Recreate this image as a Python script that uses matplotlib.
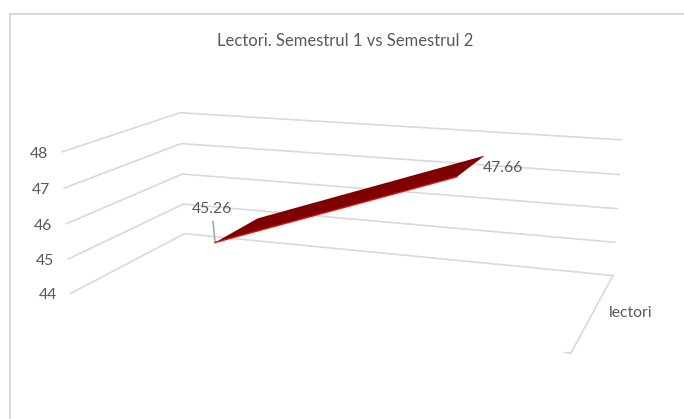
import numpy as np
import matplotlib
matplotlib.use("Agg")
import matplotlib.pyplot as plt

plt.rcParams["font.family"] = ["Lato", "DejaVu Sans"]

title = "Lectori. Semestrul 1 vs Semestrul 2"
series_name = "lectori"
axis_ticks = [44, 45, 46, 47, 48]
semester_values = [45.26, 47.66]

# where the 3D box corners land in the picture: (x, depth, value) -> pixel
# depth 0 is the back wall, depth 1 the front
box_world = [
    (0, 1, 48), (0, 0, 48), (1, 0, 48),
    (0, 1, 47), (0, 0, 47), (1, 0, 47),
    (0, 1, 46), (0, 0, 46), (1, 0, 46),
    (0, 1, 45), (0, 0, 45), (1, 0, 45),
    (0, 1, 44), (0, 0, 44), (1, 0, 44),
    (1, 1, 44),
]
box_pixels = [
    (62, 152), (180, 113), (621, 140),
    (64, 188), (182, 143), (619, 174),
    (67, 224), (183, 174), (617, 209),
    (68, 259), (183, 204), (615, 242),
    (71, 293), (184, 234), (613, 276),
    (571, 353),
]
ribbon_x = [0.25, 0.75]
ribbon_depth = [0.27, 0.70]

GRID = "#d9d9d9"
TEXT = "#595959"


def fit_camera(world, pixels):
    # plain DLT, last matrix entry fixed to 1
    rows, rhs = [], []
    for (x, d, v), (px, py) in zip(world, pixels):
        rows.append([x, d, v, 1, 0, 0, 0, 0, -px * x, -px * d, -px * v])
        rows.append([0, 0, 0, 0, x, d, v, 1, -py * x, -py * d, -py * v])
        rhs += [px, py]
    sol = np.linalg.lstsq(np.array(rows, float), np.array(rhs, float), rcond=None)[0]
    return np.append(sol, 1).reshape(3, 4)


def project(cam, x, d, v):
    p = cam @ np.array([x, d, v, 1.0])
    return p[0] / p[2], p[1] / p[2]


def line3d(ax, cam, points, **kw):
    xy = [project(cam, *p) for p in points]
    ax.plot([q[0] for q in xy], [q[1] for q in xy], **kw)


def main():
    cam = fit_camera(box_world, box_pixels)

    fig = plt.figure(figsize=(6.84, 4.19), dpi=100)
    ax = fig.add_axes([0, 0, 1, 1])
    ax.set_xlim(0, 684)
    ax.set_ylim(419, 0)
    ax.axis("off")

    # chart border
    ax.plot([10, 10, 684], [419, 14, 14], color=GRID, lw=1.5)
    ax.text(345, 41, title, ha="center", va="center", color=TEXT, fontsize=12)

    # gridlines and value ticks
    for tick in axis_ticks:
        line3d(ax, cam, [(0, 1, tick), (0, 0, tick), (1, 0, tick)], color=GRID, lw=1.2)
        ax.annotate(str(tick), project(cam, 0, 1, tick), xytext=(-14, -2),
                    textcoords="offset pixels", ha="right", va="center",
                    color=TEXT, fontsize=11.3)

    # depth axis with its small end tick
    low = axis_ticks[0]
    line3d(ax, cam, [(1, 0, low), (1, 1, low), (0.99, 1, low)], color=GRID, lw=1.2)
    ax.annotate(series_name, project(cam, 1, 0.5, low), xytext=(15, -2),
                textcoords="offset pixels", ha="left", va="center",
                color=TEXT, fontsize=11.3)

    # ribbon
    back, front = ribbon_depth
    corners = [
        (ribbon_x[0], front, semester_values[0]),
        (ribbon_x[0], back, semester_values[0]),
        (ribbon_x[1], back, semester_values[1]),
        (ribbon_x[1], front, semester_values[1]),
    ]
    xy = [project(cam, *c) for c in corners]
    ax.fill([q[0] for q in xy], [q[1] for q in xy], color="#7f0000", lw=0, zorder=3)
    ax.plot([xy[0][0], xy[3][0]], [xy[0][1], xy[3][1]], color="#e01010", lw=1, zorder=4)

    # data labels
    ax.plot([xy[0][0], xy[0][0] - 2], [xy[0][1], xy[0][1] - 21], color="#a6a6a6", lw=1.2, zorder=2)
    ax.annotate(f"{semester_values[0]:.2f}", xy[0], xytext=(-3, 34),
                textcoords="offset pixels", ha="center", va="center",
                color=TEXT, fontsize=11.3)
    ax.annotate(f"{semester_values[1]:.2f}", xy[2], xytext=(18, -12),
                textcoords="offset pixels", ha="center", va="center",
                color=TEXT, fontsize=11.3)

    fig.savefig("out.png", dpi=100)
    plt.close(fig)


if __name__ == "__main__":
    main()
